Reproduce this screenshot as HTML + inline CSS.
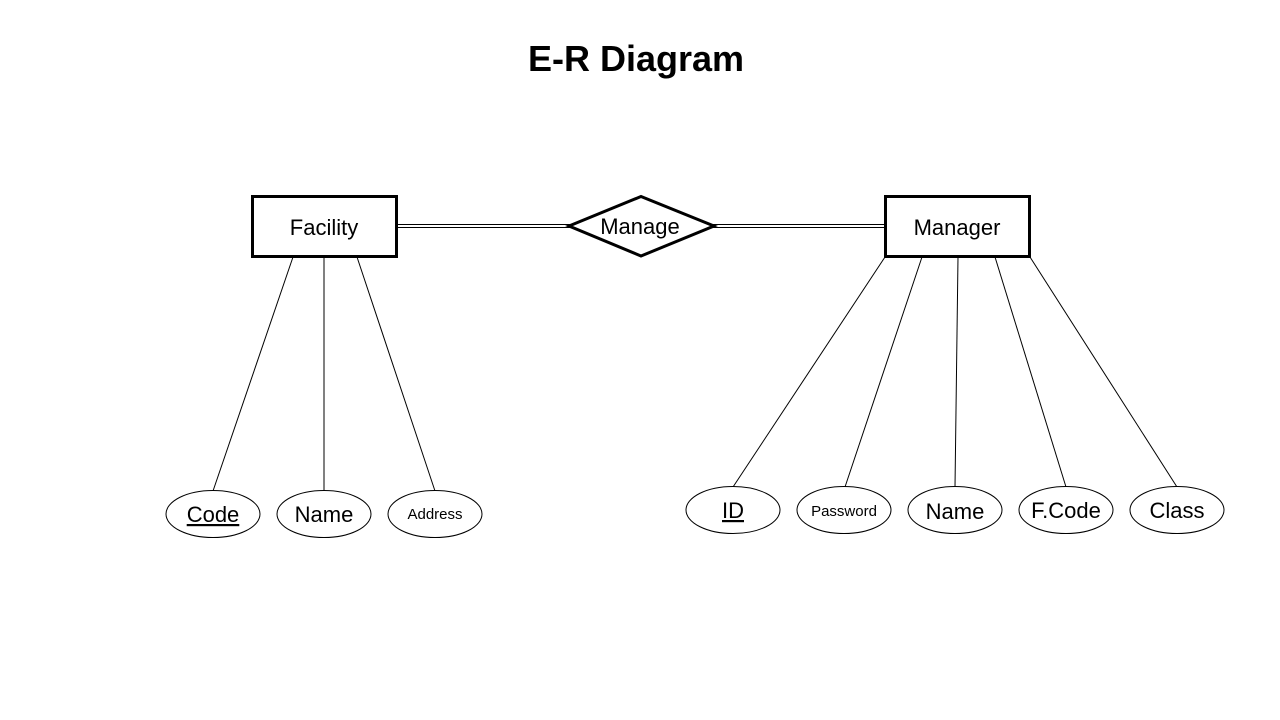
<!DOCTYPE html>
<html><head><meta charset="utf-8"><style>
html,body{margin:0;padding:0;background:#fff;}
svg{display:block;font-family:"Liberation Sans","Noto Sans CJK KR",sans-serif;}
</style></head><body>
<svg width="1280" height="720" viewBox="0 0 1280 720" xmlns="http://www.w3.org/2000/svg">
<text x="636" y="71" text-anchor="middle" font-size="36" font-weight="bold" fill="#000">E-R Diagram</text>
<g stroke="#000" stroke-width="1" fill="none">
<line x1="397" y1="224.5" x2="570" y2="224.5"/>
<line x1="397" y1="227.5" x2="570" y2="227.5"/>
<line x1="713" y1="224.5" x2="885" y2="224.5"/>
<line x1="713" y1="227.5" x2="885" y2="227.5"/>
<line x1="293" y1="257" x2="213" y2="491"/>
<line x1="324" y1="257" x2="324" y2="491"/>
<line x1="357" y1="257" x2="435" y2="491"/>
<line x1="885" y1="257" x2="733" y2="487"/>
<line x1="922" y1="257" x2="845" y2="487"/>
<line x1="958" y1="257" x2="955" y2="487"/>
<line x1="995" y1="257" x2="1066" y2="487"/>
<line x1="1030" y1="257" x2="1177" y2="487"/>
</g>
<g stroke="#000" stroke-width="3" fill="#fff">
<rect x="252.5" y="196.5" width="144" height="60"/>
<rect x="885.5" y="196.5" width="144" height="60"/>
<polygon points="569,226 641,196.5 714,226 641,256"/>
</g>
<g stroke="#000" stroke-width="1" fill="#fff">
<ellipse cx="213" cy="514" rx="47" ry="23.5"/>
<ellipse cx="324" cy="514" rx="47" ry="23.5"/>
<ellipse cx="435" cy="514" rx="47" ry="23.5"/>
<ellipse cx="733" cy="510" rx="47" ry="23.5"/>
<ellipse cx="844" cy="510" rx="47" ry="23.5"/>
<ellipse cx="955" cy="510" rx="47" ry="23.5"/>
<ellipse cx="1066" cy="510" rx="47" ry="23.5"/>
<ellipse cx="1177" cy="510" rx="47" ry="23.5"/>
</g>
<g fill="#000" text-anchor="middle">
<text x="324" y="235" font-size="22">Facility</text>
<text x="957" y="235" font-size="22">Manager</text>
<text x="640" y="234" font-size="22">Manage</text>
<text x="213" y="522" font-size="22" text-decoration="underline">Code</text>
<text x="324" y="522" font-size="22">Name</text>
<text x="435" y="519" font-size="15">Address</text>
<text x="733" y="518" font-size="22" text-decoration="underline">ID</text>
<text x="844" y="516" font-size="15">Password</text>
<text x="955" y="519" font-size="22">Name</text>
<text x="1066" y="518" font-size="22">F.Code</text>
<text x="1177" y="518" font-size="22">Class</text>
</g>
</svg>
</body></html>
